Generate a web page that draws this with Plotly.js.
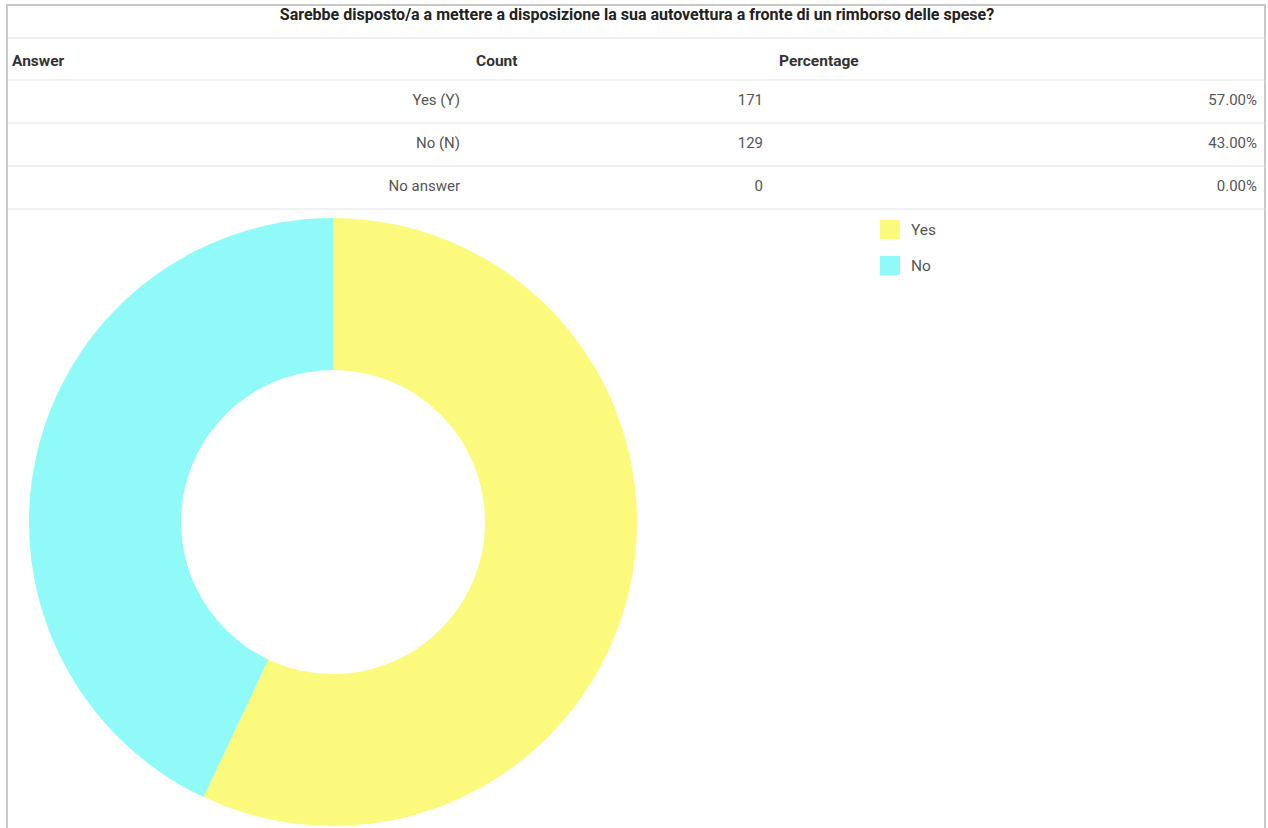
<!DOCTYPE html>
<html>
<head>
<meta charset="utf-8">
<script src="https://cdn.plot.ly/plotly-3.0.1.min.js"></script>
<style>html,body{margin:0;padding:0;background:#fff;}#chart{width:1268px;height:828px;}</style>
</head>
<body>
<div id="chart"></div>
<script>
// ---- data ----
const questionTitle = "Sarebbe disposto/a a mettere a disposizione la sua autovettura a fronte di un rimborso delle spese?";
const tableHeaders = ["Answer", "Count", "Percentage"];
const answerLabels = ["Yes (Y)", "No (N)", "No answer"];
const answerCounts = [171, 129, 0];
const answerPercentages = ["57.00%", "43.00%", "0.00%"];
const pieLabels = ["Yes", "No"];
const pieValues = [171, 129];
const pieColors = ["rgb(251,250,125)", "rgb(143,250,248)"];

// ---- layout helpers (pixel -> paper) ----
const W = 1268, H = 828;
const px = x => x / W;
const py = y => 1 - y / H;

const FONT = "Roboto, 'Noto Sans', sans-serif";

const tableTrace = {
  type: "table",
  domain: { x: [px(4), px(1265)], y: [py(215), py(44)] },
  columnwidth: [464, 303, 494],
  header: {
    values: tableHeaders.map(h => "<b>" + h + "</b>"),
    align: "left",
    height: 42,
    font: { family: FONT, size: 15.5, color: "#333" },
    fill: { color: "rgba(0,0,0,0)" },
    line: { width: 0, color: "rgba(0,0,0,0)" }
  },
  cells: {
    values: [answerLabels, answerCounts, answerPercentages],
    align: "right",
    height: 43,
    font: { family: FONT, size: 15, color: "#555" },
    fill: { color: "rgba(0,0,0,0)" },
    line: { width: 0, color: "rgba(0,0,0,0)" }
  }
};

const pieTrace = {
  type: "pie",
  labels: pieLabels,
  values: pieValues,
  hole: 0.5,
  sort: false,
  direction: "clockwise",
  rotation: 0,
  textinfo: "none",
  marker: { colors: pieColors, line: { width: 0 } },
  domain: { x: [px(29), px(637)], y: [py(826), py(218)] },
  showlegend: false
};

// horizontal table rules
const ruleYs = [38, 80, 123, 166, 209];
const shapes = ruleYs.map(y => ({
  type: "line", xref: "paper", yref: "paper",
  x0: px(8), x1: px(1265), y0: py(y), y1: py(y),
  line: { color: "#e3e3e3", width: 1 }
}));
// outer frame
shapes.push({
  type: "rect", xref: "paper", yref: "paper",
  x0: px(7), x1: px(1265), y0: py(840), y1: py(5),
  line: { color: "#c8c8c8", width: 2 }, fillcolor: "rgba(0,0,0,0)", layer: "below"
});

// custom legend built from pie labels/colors
const annotations = [];
pieLabels.forEach((lab, i) => {
  const top = 220 + i * 36;
  shapes.push({
    type: "rect", xref: "paper", yref: "paper",
    x0: px(880), x1: px(900), y0: py(top + 19), y1: py(top),
    line: { width: 0 }, fillcolor: pieColors[i]
  });
  annotations.push({
    xref: "paper", yref: "paper", x: px(909), y: py(top + 9.5),
    xanchor: "left", yanchor: "middle", showarrow: false,
    text: lab, font: { family: FONT, size: 15.5, color: "#555" }
  });
});

const layout = {
  width: W, height: H,
  margin: { l: 0, r: 0, t: 0, b: 0 },
  paper_bgcolor: "#fff",
  title: {
    text: "<b>" + questionTitle + "</b>",
    x: px(637), xanchor: "center",
    y: py(14), yanchor: "middle",
    font: { family: FONT, size: 16, color: "#222" }
  },
  showlegend: false,
  shapes: shapes,
  annotations: annotations
};

Plotly.newPlot("chart", [tableTrace, pieTrace], layout, { displayModeBar: false, staticPlot: true });
</script>
</body>
</html>
